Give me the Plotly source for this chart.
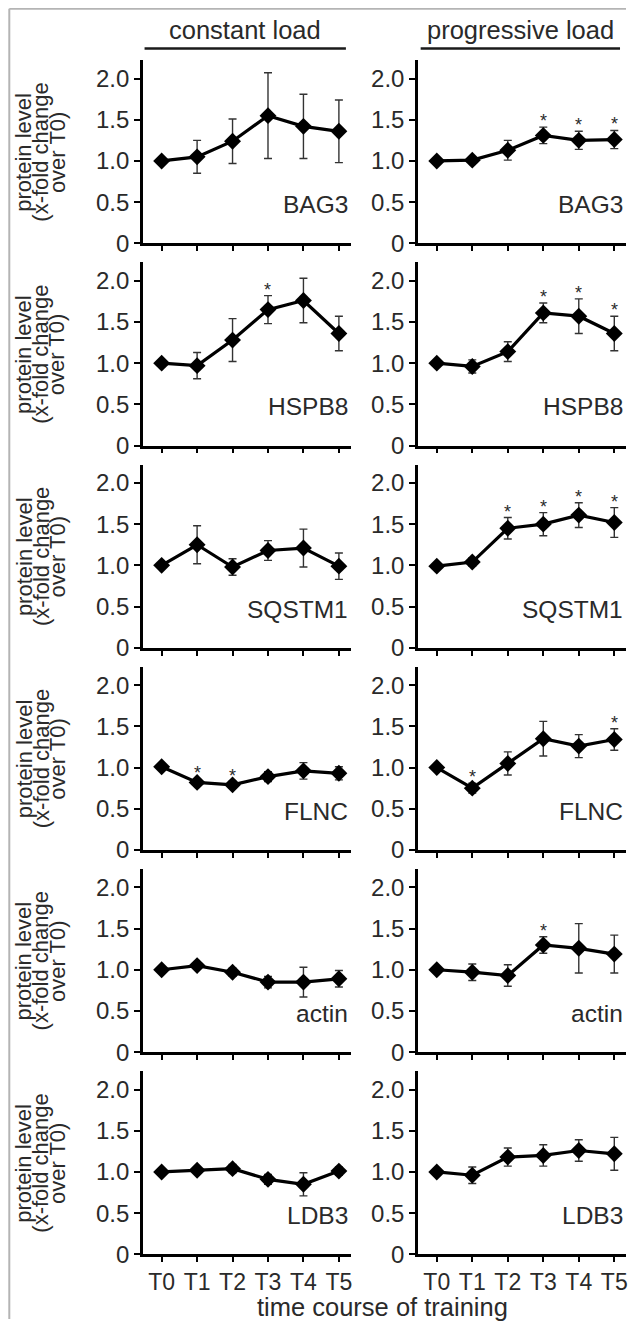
import plotly.graph_objects as go

timepoints = ["T0", "T1", "T2", "T3", "T4", "T5"]
proteins = ["BAG3", "HSPB8", "SQSTM1", "FLNC", "actin", "LDB3"]
conditions = ["constant load", "progressive load"]
y_ticks = [0, 0.5, 1.0, 1.5, 2.0]
y_tick_text = ["0", "0.5", "1.0", "1.5", "2.0"]

# constant load: mean, error, significance flags
const_bag3 = [1.00, 1.05, 1.24, 1.55, 1.42, 1.36]
const_bag3_err = [0.02, 0.20, 0.27, 0.52, 0.39, 0.38]
const_bag3_sig = [0, 0, 0, 0, 0, 0]
const_hspb8 = [1.00, 0.97, 1.28, 1.65, 1.76, 1.36]
const_hspb8_err = [0.02, 0.16, 0.26, 0.17, 0.27, 0.21]
const_hspb8_sig = [0, 0, 0, 1, 0, 0]
const_sqstm1 = [1.00, 1.25, 0.98, 1.18, 1.21, 0.99]
const_sqstm1_err = [0.02, 0.23, 0.10, 0.12, 0.23, 0.16]
const_sqstm1_sig = [0, 0, 0, 0, 0, 0]
const_flnc = [1.01, 0.82, 0.79, 0.89, 0.96, 0.93]
const_flnc_err = [0.02, 0.04, 0.04, 0.06, 0.10, 0.08]
const_flnc_sig = [0, 1, 1, 0, 0, 0]
const_actin = [1.00, 1.05, 0.97, 0.85, 0.85, 0.89]
const_actin_err = [0.02, 0.03, 0.05, 0.07, 0.18, 0.10]
const_actin_sig = [0, 0, 0, 0, 0, 0]
const_ldb3 = [1.00, 1.02, 1.04, 0.91, 0.85, 1.01]
const_ldb3_err = [0.02, 0.03, 0.05, 0.06, 0.14, 0.05]
const_ldb3_sig = [0, 0, 0, 0, 0, 0]

# progressive load
prog_bag3 = [1.00, 1.01, 1.13, 1.31, 1.25, 1.26]
prog_bag3_err = [0.02, 0.03, 0.12, 0.10, 0.11, 0.11]
prog_bag3_sig = [0, 0, 0, 1, 1, 1]
prog_hspb8 = [1.00, 0.96, 1.14, 1.61, 1.57, 1.36]
prog_hspb8_err = [0.02, 0.08, 0.12, 0.12, 0.21, 0.21]
prog_hspb8_sig = [0, 0, 0, 1, 1, 1]
prog_sqstm1 = [0.99, 1.04, 1.45, 1.50, 1.61, 1.52]
prog_sqstm1_err = [0.02, 0.05, 0.13, 0.14, 0.15, 0.18]
prog_sqstm1_sig = [0, 0, 1, 1, 1, 1]
prog_flnc = [1.00, 0.75, 1.05, 1.35, 1.26, 1.34]
prog_flnc_err = [0.02, 0.06, 0.14, 0.21, 0.14, 0.13]
prog_flnc_sig = [0, 1, 0, 0, 0, 1]
prog_actin = [1.00, 0.97, 0.93, 1.30, 1.26, 1.19]
prog_actin_err = [0.02, 0.10, 0.13, 0.10, 0.30, 0.23]
prog_actin_sig = [0, 0, 0, 1, 0, 0]
prog_ldb3 = [1.00, 0.96, 1.18, 1.20, 1.26, 1.22]
prog_ldb3_err = [0.02, 0.10, 0.11, 0.13, 0.13, 0.20]
prog_ldb3_sig = [0, 0, 0, 0, 0, 0]

table = [
    [(const_bag3, const_bag3_err, const_bag3_sig), (prog_bag3, prog_bag3_err, prog_bag3_sig)],
    [(const_hspb8, const_hspb8_err, const_hspb8_sig), (prog_hspb8, prog_hspb8_err, prog_hspb8_sig)],
    [(const_sqstm1, const_sqstm1_err, const_sqstm1_sig), (prog_sqstm1, prog_sqstm1_err, prog_sqstm1_sig)],
    [(const_flnc, const_flnc_err, const_flnc_sig), (prog_flnc, prog_flnc_err, prog_flnc_sig)],
    [(const_actin, const_actin_err, const_actin_sig), (prog_actin, prog_actin_err, prog_actin_sig)],
    [(const_ldb3, const_ldb3_err, const_ldb3_sig), (prog_ldb3, prog_ldb3_err, prog_ldb3_sig)],
]

# The page body has an 8px margin, so the figure is 16px smaller than the window
# and positions below are given in page pixels minus that offset.
W, H = 620, 1324
OFF = 8
FONT = "Liberation Sans, Arial, sans-serif"
TXT = "#2a2a2a"

def px(x):
    return (x - OFF) / W

def py(y):
    return 1 - (y - OFF) / H

col_x = [(143.3, 351.7), (419.3, 628.0)]
row_bottom0 = 245.7
row_step = 204.2
row_height = 185.0

fig = go.Figure()
layout = {}
annotations = []
shapes = []
xpos = list(range(len(timepoints)))

n = 0
for r, prot in enumerate(proteins):
    yb = row_bottom0 + r * row_step
    yt = yb - row_height
    for c in range(2):
        n += 1
        sfx = "" if n == 1 else str(n)
        mean, err, sig = table[r][c]
        fig.add_trace(go.Scatter(
            x=xpos, y=mean, mode="lines+markers",
            line=dict(color="black", width=3.2),
            marker=dict(symbol="diamond", size=13, color="black"),
            error_y=dict(type="data", array=err, visible=True,
                         color="#333333", thickness=1.4, width=4),
            xaxis="x" + sfx, yaxis="y" + sfx, showlegend=False,
            hoverinfo="skip",
        ))
        x0, x1 = col_x[c]
        layout["xaxis" + sfx] = dict(
            domain=[px(x0), min(px(x1), 1.0)], anchor="y" + sfx,
            range=[-0.53, 5.33], tickmode="array", tickvals=xpos,
            ticktext=timepoints, showticklabels=(r == len(proteins) - 1),
            ticklabeloverflow="allow",
            ticks="outside", ticklen=5, tickwidth=2, tickcolor="black",
            showline=True, linecolor="black", linewidth=2.5,
            showgrid=False, zeroline=False,
            tickfont=dict(family=FONT, size=23, color=TXT),
        )
        layout["yaxis" + sfx] = dict(
            domain=[py(yb), py(yt)], anchor="x" + sfx,
            range=[0, 2.223], tickmode="array", tickvals=y_ticks,
            ticktext=y_tick_text,
            ticks="outside", ticklen=6, tickwidth=2, tickcolor="black",
            showline=True, linecolor="black", linewidth=2.5,
            showgrid=False, zeroline=False,
            tickfont=dict(family=FONT, size=24, color=TXT),
        )
        # protein label
        annotations.append(dict(
            text=prot, x=5.3, y=0.47, xref="x" + sfx, yref="y" + sfx,
            xanchor="right", yanchor="middle", showarrow=False,
            font=dict(family=FONT, size=24.5, color=TXT),
        ))
        # significance stars
        for i, s in enumerate(sig):
            if s:
                annotations.append(dict(
                    text="*", x=i, y=mean[i] + err[i], xref="x" + sfx, yref="y" + sfx,
                    xanchor="center", yanchor="bottom", yshift=-6, showarrow=False,
                    font=dict(family=FONT, size=18, color=TXT),
                ))
    # y-axis title (three lines)
    yc = (yb + yt) / 2
    for line_txt, xc in [("protein level", 24), ("(x-fold change", 41), ("over T0)", 57.5)]:
        annotations.append(dict(
            text=line_txt, x=px(xc), y=py(yc), xref="paper", yref="paper",
            xanchor="center", yanchor="middle", textangle=-90, showarrow=False,
            font=dict(family=FONT, size=22, color=TXT),
        ))

# column headers
for c, name in enumerate(conditions):
    lx0, lx1 = [(145, 347), (422, 622)][c]
    annotations.append(dict(
        text=name, x=px((lx0 + lx1) / 2), y=py(30), xref="paper", yref="paper",
        xanchor="center", yanchor="middle", showarrow=False,
        font=dict(family=FONT, size=25.5, color=TXT),
    ))
    shapes.append(dict(type="line", xref="paper", yref="paper",
                       x0=px(lx0), x1=px(lx1), y0=py(49), y1=py(49),
                       line=dict(color="#1a1a1a", width=2.5)))

# bottom x-axis title
annotations.append(dict(
    text="time course of training", x=px(384), y=py(1320), xref="paper", yref="paper",
    xanchor="center", yanchor="middle", showarrow=False,
    font=dict(family=FONT, size=25.5, color=TXT),
))

# frame (left and top edges)
shapes.append(dict(type="line", xref="paper", yref="paper",
                   x0=px(9.3), x1=px(9.3), y0=0, y1=py(8.8),
                   line=dict(color="#b4b4b4", width=2), layer="below"))
shapes.append(dict(type="line", xref="paper", yref="paper",
                   x0=px(9.3), x1=1, y0=py(8.8), y1=py(8.8),
                   line=dict(color="#b4b4b4", width=2), layer="below"))

fig.update_layout(
    width=W, height=H, margin=dict(l=0, r=0, t=0, b=0),
    paper_bgcolor="white", plot_bgcolor="rgba(0,0,0,0)",
    annotations=annotations, shapes=shapes, **layout,
)

fig.write_html("out.html")
